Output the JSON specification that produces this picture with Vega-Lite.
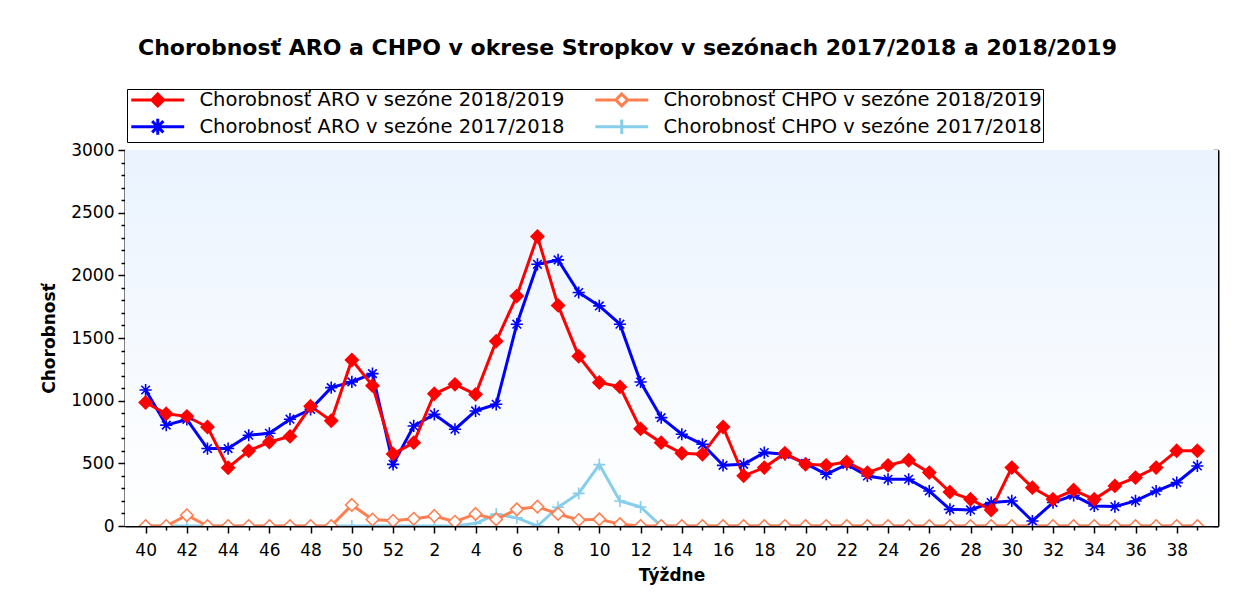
{
  "$schema": "https://vega.github.io/schema/vega-lite/v6.json",
  "autosize": {"type": "none"},
  "padding": {"left": 125, "top": 150, "right": 18, "bottom": 80},
  "width": 1093,
  "height": 376,
  "background": "#ffffff",
  "title": {
    "text": "Chorobnosť ARO a CHPO v okrese Stropkov v sezónach 2017/2018 a 2018/2019",
    "font": "DejaVu Sans",
    "fontSize": 22,
    "fontWeight": "bold",
    "color": "#000000",
    "anchor": "middle",
    "frame": "group",
    "dx": -44,
    "baseline": "middle",
    "offset": 19
  },
  "data": {
    "values": [
      {"t":40,"s":"Chorobnosť CHPO v sezóne 2017/2018","v":0},{"t":41,"s":"Chorobnosť CHPO v sezóne 2017/2018","v":0},{"t":42,"s":"Chorobnosť CHPO v sezóne 2017/2018","v":0},{"t":43,"s":"Chorobnosť CHPO v sezóne 2017/2018","v":0},{"t":44,"s":"Chorobnosť CHPO v sezóne 2017/2018","v":0},{"t":45,"s":"Chorobnosť CHPO v sezóne 2017/2018","v":0},{"t":46,"s":"Chorobnosť CHPO v sezóne 2017/2018","v":0},{"t":47,"s":"Chorobnosť CHPO v sezóne 2017/2018","v":0},{"t":48,"s":"Chorobnosť CHPO v sezóne 2017/2018","v":0},{"t":49,"s":"Chorobnosť CHPO v sezóne 2017/2018","v":0},{"t":50,"s":"Chorobnosť CHPO v sezóne 2017/2018","v":0},{"t":51,"s":"Chorobnosť CHPO v sezóne 2017/2018","v":0},{"t":52,"s":"Chorobnosť CHPO v sezóne 2017/2018","v":0},
      {"t":1,"s":"Chorobnosť CHPO v sezóne 2017/2018","v":0},{"t":2,"s":"Chorobnosť CHPO v sezóne 2017/2018","v":0},{"t":3,"s":"Chorobnosť CHPO v sezóne 2017/2018","v":0},{"t":4,"s":"Chorobnosť CHPO v sezóne 2017/2018","v":20},{"t":5,"s":"Chorobnosť CHPO v sezóne 2017/2018","v":95},{"t":6,"s":"Chorobnosť CHPO v sezóne 2017/2018","v":65},{"t":7,"s":"Chorobnosť CHPO v sezóne 2017/2018","v":0},{"t":8,"s":"Chorobnosť CHPO v sezóne 2017/2018","v":150},{"t":9,"s":"Chorobnosť CHPO v sezóne 2017/2018","v":260},{"t":10,"s":"Chorobnosť CHPO v sezóne 2017/2018","v":490},{"t":11,"s":"Chorobnosť CHPO v sezóne 2017/2018","v":200},{"t":12,"s":"Chorobnosť CHPO v sezóne 2017/2018","v":152},{"t":13,"s":"Chorobnosť CHPO v sezóne 2017/2018","v":0},
      {"t":14,"s":"Chorobnosť CHPO v sezóne 2017/2018","v":0},{"t":15,"s":"Chorobnosť CHPO v sezóne 2017/2018","v":0},{"t":16,"s":"Chorobnosť CHPO v sezóne 2017/2018","v":0},{"t":17,"s":"Chorobnosť CHPO v sezóne 2017/2018","v":0},{"t":18,"s":"Chorobnosť CHPO v sezóne 2017/2018","v":0},{"t":19,"s":"Chorobnosť CHPO v sezóne 2017/2018","v":0},{"t":20,"s":"Chorobnosť CHPO v sezóne 2017/2018","v":0},{"t":21,"s":"Chorobnosť CHPO v sezóne 2017/2018","v":0},{"t":22,"s":"Chorobnosť CHPO v sezóne 2017/2018","v":0},{"t":23,"s":"Chorobnosť CHPO v sezóne 2017/2018","v":0},{"t":24,"s":"Chorobnosť CHPO v sezóne 2017/2018","v":0},{"t":25,"s":"Chorobnosť CHPO v sezóne 2017/2018","v":0},{"t":26,"s":"Chorobnosť CHPO v sezóne 2017/2018","v":0},
      {"t":27,"s":"Chorobnosť CHPO v sezóne 2017/2018","v":0},{"t":28,"s":"Chorobnosť CHPO v sezóne 2017/2018","v":0},{"t":29,"s":"Chorobnosť CHPO v sezóne 2017/2018","v":0},{"t":30,"s":"Chorobnosť CHPO v sezóne 2017/2018","v":0},{"t":31,"s":"Chorobnosť CHPO v sezóne 2017/2018","v":0},{"t":32,"s":"Chorobnosť CHPO v sezóne 2017/2018","v":0},{"t":33,"s":"Chorobnosť CHPO v sezóne 2017/2018","v":0},{"t":34,"s":"Chorobnosť CHPO v sezóne 2017/2018","v":0},{"t":35,"s":"Chorobnosť CHPO v sezóne 2017/2018","v":0},{"t":36,"s":"Chorobnosť CHPO v sezóne 2017/2018","v":0},{"t":37,"s":"Chorobnosť CHPO v sezóne 2017/2018","v":0},{"t":38,"s":"Chorobnosť CHPO v sezóne 2017/2018","v":0},{"t":39,"s":"Chorobnosť CHPO v sezóne 2017/2018","v":0},

      {"t":40,"s":"Chorobnosť CHPO v sezóne 2018/2019","v":0},{"t":41,"s":"Chorobnosť CHPO v sezóne 2018/2019","v":0},{"t":42,"s":"Chorobnosť CHPO v sezóne 2018/2019","v":86},{"t":43,"s":"Chorobnosť CHPO v sezóne 2018/2019","v":0},{"t":44,"s":"Chorobnosť CHPO v sezóne 2018/2019","v":0},{"t":45,"s":"Chorobnosť CHPO v sezóne 2018/2019","v":0},{"t":46,"s":"Chorobnosť CHPO v sezóne 2018/2019","v":0},{"t":47,"s":"Chorobnosť CHPO v sezóne 2018/2019","v":0},{"t":48,"s":"Chorobnosť CHPO v sezóne 2018/2019","v":0},{"t":49,"s":"Chorobnosť CHPO v sezóne 2018/2019","v":0},{"t":50,"s":"Chorobnosť CHPO v sezóne 2018/2019","v":168},{"t":51,"s":"Chorobnosť CHPO v sezóne 2018/2019","v":52},{"t":52,"s":"Chorobnosť CHPO v sezóne 2018/2019","v":42},
      {"t":1,"s":"Chorobnosť CHPO v sezóne 2018/2019","v":58},{"t":2,"s":"Chorobnosť CHPO v sezóne 2018/2019","v":80},{"t":3,"s":"Chorobnosť CHPO v sezóne 2018/2019","v":34},{"t":4,"s":"Chorobnosť CHPO v sezóne 2018/2019","v":96},{"t":5,"s":"Chorobnosť CHPO v sezóne 2018/2019","v":53},{"t":6,"s":"Chorobnosť CHPO v sezóne 2018/2019","v":133},{"t":7,"s":"Chorobnosť CHPO v sezóne 2018/2019","v":154},{"t":8,"s":"Chorobnosť CHPO v sezóne 2018/2019","v":96},{"t":9,"s":"Chorobnosť CHPO v sezóne 2018/2019","v":48},{"t":10,"s":"Chorobnosť CHPO v sezóne 2018/2019","v":53},{"t":11,"s":"Chorobnosť CHPO v sezóne 2018/2019","v":15},{"t":12,"s":"Chorobnosť CHPO v sezóne 2018/2019","v":0},{"t":13,"s":"Chorobnosť CHPO v sezóne 2018/2019","v":0},
      {"t":14,"s":"Chorobnosť CHPO v sezóne 2018/2019","v":0},{"t":15,"s":"Chorobnosť CHPO v sezóne 2018/2019","v":0},{"t":16,"s":"Chorobnosť CHPO v sezóne 2018/2019","v":0},{"t":17,"s":"Chorobnosť CHPO v sezóne 2018/2019","v":0},{"t":18,"s":"Chorobnosť CHPO v sezóne 2018/2019","v":0},{"t":19,"s":"Chorobnosť CHPO v sezóne 2018/2019","v":0},{"t":20,"s":"Chorobnosť CHPO v sezóne 2018/2019","v":0},{"t":21,"s":"Chorobnosť CHPO v sezóne 2018/2019","v":0},{"t":22,"s":"Chorobnosť CHPO v sezóne 2018/2019","v":0},{"t":23,"s":"Chorobnosť CHPO v sezóne 2018/2019","v":0},{"t":24,"s":"Chorobnosť CHPO v sezóne 2018/2019","v":0},{"t":25,"s":"Chorobnosť CHPO v sezóne 2018/2019","v":0},{"t":26,"s":"Chorobnosť CHPO v sezóne 2018/2019","v":0},
      {"t":27,"s":"Chorobnosť CHPO v sezóne 2018/2019","v":0},{"t":28,"s":"Chorobnosť CHPO v sezóne 2018/2019","v":0},{"t":29,"s":"Chorobnosť CHPO v sezóne 2018/2019","v":0},{"t":30,"s":"Chorobnosť CHPO v sezóne 2018/2019","v":0},{"t":31,"s":"Chorobnosť CHPO v sezóne 2018/2019","v":0},{"t":32,"s":"Chorobnosť CHPO v sezóne 2018/2019","v":0},{"t":33,"s":"Chorobnosť CHPO v sezóne 2018/2019","v":0},{"t":34,"s":"Chorobnosť CHPO v sezóne 2018/2019","v":0},{"t":35,"s":"Chorobnosť CHPO v sezóne 2018/2019","v":0},{"t":36,"s":"Chorobnosť CHPO v sezóne 2018/2019","v":0},{"t":37,"s":"Chorobnosť CHPO v sezóne 2018/2019","v":0},{"t":38,"s":"Chorobnosť CHPO v sezóne 2018/2019","v":0},{"t":39,"s":"Chorobnosť CHPO v sezóne 2018/2019","v":0},

      {"t":40,"s":"Chorobnosť ARO v sezóne 2017/2018","v":1085},{"t":41,"s":"Chorobnosť ARO v sezóne 2017/2018","v":805},{"t":42,"s":"Chorobnosť ARO v sezóne 2017/2018","v":850},{"t":43,"s":"Chorobnosť ARO v sezóne 2017/2018","v":618},{"t":44,"s":"Chorobnosť ARO v sezóne 2017/2018","v":618},{"t":45,"s":"Chorobnosť ARO v sezóne 2017/2018","v":724},{"t":46,"s":"Chorobnosť ARO v sezóne 2017/2018","v":740},{"t":47,"s":"Chorobnosť ARO v sezóne 2017/2018","v":852},{"t":48,"s":"Chorobnosť ARO v sezóne 2017/2018","v":931},{"t":49,"s":"Chorobnosť ARO v sezóne 2017/2018","v":1104},{"t":50,"s":"Chorobnosť ARO v sezóne 2017/2018","v":1150},{"t":51,"s":"Chorobnosť ARO v sezóne 2017/2018","v":1216},{"t":52,"s":"Chorobnosť ARO v sezóne 2017/2018","v":492},
      {"t":1,"s":"Chorobnosť ARO v sezóne 2017/2018","v":798},{"t":2,"s":"Chorobnosť ARO v sezóne 2017/2018","v":891},{"t":3,"s":"Chorobnosť ARO v sezóne 2017/2018","v":772},{"t":4,"s":"Chorobnosť ARO v sezóne 2017/2018","v":918},{"t":5,"s":"Chorobnosť ARO v sezóne 2017/2018","v":971},{"t":6,"s":"Chorobnosť ARO v sezóne 2017/2018","v":1610},{"t":7,"s":"Chorobnosť ARO v sezóne 2017/2018","v":2088},{"t":8,"s":"Chorobnosť ARO v sezóne 2017/2018","v":2123},{"t":9,"s":"Chorobnosť ARO v sezóne 2017/2018","v":1863},{"t":10,"s":"Chorobnosť ARO v sezóne 2017/2018","v":1756},{"t":11,"s":"Chorobnosť ARO v sezóne 2017/2018","v":1610},{"t":12,"s":"Chorobnosť ARO v sezóne 2017/2018","v":1149},{"t":13,"s":"Chorobnosť ARO v sezóne 2017/2018","v":865},
      {"t":14,"s":"Chorobnosť ARO v sezóne 2017/2018","v":732},{"t":15,"s":"Chorobnosť ARO v sezóne 2017/2018","v":652},{"t":16,"s":"Chorobnosť ARO v sezóne 2017/2018","v":484},{"t":17,"s":"Chorobnosť ARO v sezóne 2017/2018","v":492},{"t":18,"s":"Chorobnosť ARO v sezóne 2017/2018","v":586},{"t":19,"s":"Chorobnosť ARO v sezóne 2017/2018","v":572},{"t":20,"s":"Chorobnosť ARO v sezóne 2017/2018","v":500},{"t":21,"s":"Chorobnosť ARO v sezóne 2017/2018","v":413},{"t":22,"s":"Chorobnosť ARO v sezóne 2017/2018","v":492},{"t":23,"s":"Chorobnosť ARO v sezóne 2017/2018","v":399},{"t":24,"s":"Chorobnosť ARO v sezóne 2017/2018","v":373},{"t":25,"s":"Chorobnosť ARO v sezóne 2017/2018","v":373},{"t":26,"s":"Chorobnosť ARO v sezóne 2017/2018","v":279},
      {"t":27,"s":"Chorobnosť ARO v sezóne 2017/2018","v":133},{"t":28,"s":"Chorobnosť ARO v sezóne 2017/2018","v":128},{"t":29,"s":"Chorobnosť ARO v sezóne 2017/2018","v":187},{"t":30,"s":"Chorobnosť ARO v sezóne 2017/2018","v":200},{"t":31,"s":"Chorobnosť ARO v sezóne 2017/2018","v":40},{"t":32,"s":"Chorobnosť ARO v sezóne 2017/2018","v":187},{"t":33,"s":"Chorobnosť ARO v sezóne 2017/2018","v":245},{"t":34,"s":"Chorobnosť ARO v sezóne 2017/2018","v":160},{"t":35,"s":"Chorobnosť ARO v sezóne 2017/2018","v":155},{"t":36,"s":"Chorobnosť ARO v sezóne 2017/2018","v":200},{"t":37,"s":"Chorobnosť ARO v sezóne 2017/2018","v":279},{"t":38,"s":"Chorobnosť ARO v sezóne 2017/2018","v":346},{"t":39,"s":"Chorobnosť ARO v sezóne 2017/2018","v":479},

      {"t":40,"s":"Chorobnosť ARO v sezóne 2018/2019","v":985},{"t":41,"s":"Chorobnosť ARO v sezóne 2018/2019","v":895},{"t":42,"s":"Chorobnosť ARO v sezóne 2018/2019","v":875},{"t":43,"s":"Chorobnosť ARO v sezóne 2018/2019","v":790},{"t":44,"s":"Chorobnosť ARO v sezóne 2018/2019","v":465},{"t":45,"s":"Chorobnosť ARO v sezóne 2018/2019","v":600},{"t":46,"s":"Chorobnosť ARO v sezóne 2018/2019","v":670},{"t":47,"s":"Chorobnosť ARO v sezóne 2018/2019","v":715},{"t":48,"s":"Chorobnosť ARO v sezóne 2018/2019","v":955},{"t":49,"s":"Chorobnosť ARO v sezóne 2018/2019","v":840},{"t":50,"s":"Chorobnosť ARO v sezóne 2018/2019","v":1325},{"t":51,"s":"Chorobnosť ARO v sezóne 2018/2019","v":1120},{"t":52,"s":"Chorobnosť ARO v sezóne 2018/2019","v":575},
      {"t":1,"s":"Chorobnosť ARO v sezóne 2018/2019","v":665},{"t":2,"s":"Chorobnosť ARO v sezóne 2018/2019","v":1055},{"t":3,"s":"Chorobnosť ARO v sezóne 2018/2019","v":1130},{"t":4,"s":"Chorobnosť ARO v sezóne 2018/2019","v":1050},{"t":5,"s":"Chorobnosť ARO v sezóne 2018/2019","v":1475},{"t":6,"s":"Chorobnosť ARO v sezóne 2018/2019","v":1835},{"t":7,"s":"Chorobnosť ARO v sezóne 2018/2019","v":2310},{"t":8,"s":"Chorobnosť ARO v sezóne 2018/2019","v":1760},{"t":9,"s":"Chorobnosť ARO v sezóne 2018/2019","v":1355},{"t":10,"s":"Chorobnosť ARO v sezóne 2018/2019","v":1145},{"t":11,"s":"Chorobnosť ARO v sezóne 2018/2019","v":1110},{"t":12,"s":"Chorobnosť ARO v sezóne 2018/2019","v":775},{"t":13,"s":"Chorobnosť ARO v sezóne 2018/2019","v":665},
      {"t":14,"s":"Chorobnosť ARO v sezóne 2018/2019","v":580},{"t":15,"s":"Chorobnosť ARO v sezóne 2018/2019","v":572},{"t":16,"s":"Chorobnosť ARO v sezóne 2018/2019","v":790},{"t":17,"s":"Chorobnosť ARO v sezóne 2018/2019","v":400},{"t":18,"s":"Chorobnosť ARO v sezóne 2018/2019","v":466},{"t":19,"s":"Chorobnosť ARO v sezóne 2018/2019","v":580},{"t":20,"s":"Chorobnosť ARO v sezóne 2018/2019","v":492},{"t":21,"s":"Chorobnosť ARO v sezóne 2018/2019","v":484},{"t":22,"s":"Chorobnosť ARO v sezóne 2018/2019","v":510},{"t":23,"s":"Chorobnosť ARO v sezóne 2018/2019","v":426},{"t":24,"s":"Chorobnosť ARO v sezóne 2018/2019","v":484},{"t":25,"s":"Chorobnosť ARO v sezóne 2018/2019","v":525},{"t":26,"s":"Chorobnosť ARO v sezóne 2018/2019","v":426},
      {"t":27,"s":"Chorobnosť ARO v sezóne 2018/2019","v":271},{"t":28,"s":"Chorobnosť ARO v sezóne 2018/2019","v":213},{"t":29,"s":"Chorobnosť ARO v sezóne 2018/2019","v":128},{"t":30,"s":"Chorobnosť ARO v sezóne 2018/2019","v":466},{"t":31,"s":"Chorobnosť ARO v sezóne 2018/2019","v":306},{"t":32,"s":"Chorobnosť ARO v sezóne 2018/2019","v":213},{"t":33,"s":"Chorobnosť ARO v sezóne 2018/2019","v":287},{"t":34,"s":"Chorobnosť ARO v sezóne 2018/2019","v":213},{"t":35,"s":"Chorobnosť ARO v sezóne 2018/2019","v":320},{"t":36,"s":"Chorobnosť ARO v sezóne 2018/2019","v":386},{"t":37,"s":"Chorobnosť ARO v sezóne 2018/2019","v":466},{"t":38,"s":"Chorobnosť ARO v sezóne 2018/2019","v":600},{"t":39,"s":"Chorobnosť ARO v sezóne 2018/2019","v":600}
    ]
  },
  "resolve": {
    "scale": {"shape": "independent", "stroke": "independent", "fill": "independent", "size": "independent"},
    "axis": {"x": "independent", "y": "independent"}
  },
  "layer": [
    {
      "mark": {
        "type": "rect",
        "fill": {"gradient": "linear", "x1": 0, "y1": 0, "x2": 0, "y2": 1, "stops": [{"offset": 0, "color": "#eaf3fe"}, {"offset": 1, "color": "#ffffff"}]}
      },
      "encoding": {
        "y": {"datum": 3000, "type": "quantitative", "scale": {"domain": [0, 3000], "nice": false}, "axis": null},
        "y2": {"datum": 0}
      }
    },
    {
      "mark": {"type": "line", "strokeWidth": 3, "clip": true},
      "encoding": {
        "x": {
          "field": "t", "type": "ordinal",
          "scale": {"type": "point", "padding": 1, "domain": [40,41,42,43,44,45,46,47,48,49,50,51,52,1,2,3,4,5,6,7,8,9,10,11,12,13,14,15,16,17,18,19,20,21,22,23,24,25,26,27,28,29,30,31,32,33,34,35,36,37,38,39]},
          "axis": {
            "orient": "bottom", "title": "Týždne", "labelAngle": 0,
            "labelExpr": "datum.value % 2 == 0 ? datum.label : ''",
            "domainWidth": 2, "domainColor": "#000000", "tickColor": "#000000", "tickWidth": 1.5,
            "tickSize": {"condition": {"test": "datum.value % 2 == 0", "value": 7}, "value": 4},
            "labelPadding": 9, "titlePadding": 9,
            "labelFont": "DejaVu Sans", "labelFontSize": 17, "labelColor": "#000000",
            "titleFont": "DejaVu Sans", "titleFontSize": 17, "titleFontWeight": "bold", "titleColor": "#000000"
          }
        },
        "y": {
          "field": "v", "type": "quantitative",
          "scale": {"domain": [0, 3000], "nice": false},
          "axis": {
            "orient": "left", "title": "Chorobnosť", "grid": false, "format": "d",
            "values": [0,100,200,300,400,500,600,700,800,900,1000,1100,1200,1300,1400,1500,1600,1700,1800,1900,2000,2100,2200,2300,2400,2500,2600,2700,2800,2900,3000],
            "labelExpr": "datum.value % 500 == 0 ? datum.label : ''",
            "domainWidth": 2, "domainColor": "#000000", "tickColor": "#000000", "tickWidth": 1.5,
            "tickSize": {"condition": {"test": "datum.value % 500 == 0", "value": 7}, "value": 4},
            "labelPadding": 4, "titlePadding": 12,
            "labelFont": "DejaVu Sans", "labelFontSize": 17, "labelColor": "#000000",
            "titleFont": "DejaVu Sans", "titleFontSize": 17, "titleFontWeight": "bold", "titleColor": "#000000"
          }
        },
        "stroke": {
          "field": "s", "type": "nominal", "legend": null,
          "scale": {
            "domain": ["Chorobnosť ARO v sezóne 2018/2019", "Chorobnosť CHPO v sezóne 2018/2019", "Chorobnosť ARO v sezóne 2017/2018", "Chorobnosť CHPO v sezóne 2017/2018"],
            "range": ["#ff0000", "#ff7f50", "#0000ff", "#87ceeb"]
          }
        }
      }
    },
    {
      "mark": {"type": "point", "clip": true, "strokeWidth": 1.6, "opacity": 1},
      "encoding": {
        "x": {"field": "t", "type": "ordinal", "axis": null},
        "y": {"field": "v", "type": "quantitative", "axis": null},
        "stroke": {
          "field": "s", "type": "nominal", "legend": null,
          "scale": {
            "domain": ["Chorobnosť ARO v sezóne 2018/2019", "Chorobnosť CHPO v sezóne 2018/2019", "Chorobnosť ARO v sezóne 2017/2018", "Chorobnosť CHPO v sezóne 2017/2018"],
            "range": ["#ff0000", "#ff7f50", "#0000ff", "#87ceeb"]
          }
        },
        "fill": {
          "field": "s", "type": "nominal", "legend": null,
          "scale": {
            "domain": ["Chorobnosť ARO v sezóne 2018/2019", "Chorobnosť CHPO v sezóne 2018/2019", "Chorobnosť ARO v sezóne 2017/2018", "Chorobnosť CHPO v sezóne 2017/2018"],
            "range": ["#ff0000", "#ffffff", "transparent", "transparent"]
          }
        },
        "shape": {
          "field": "s", "type": "nominal", "legend": null,
          "scale": {
            "domain": ["Chorobnosť ARO v sezóne 2018/2019", "Chorobnosť CHPO v sezóne 2018/2019", "Chorobnosť ARO v sezóne 2017/2018", "Chorobnosť CHPO v sezóne 2017/2018"],
            "range": ["M0,-1L1,0L0,1L-1,0Z", "M0,-1L1,0L0,1L-1,0Z", "M-1,0L1,0M0,-1L0,1M-0.7,-0.7L0.7,0.7M-0.7,0.7L0.7,-0.7", "M-1,0L1,0M0,-1L0,1"]
          }
        },
        "size": {
          "field": "s", "type": "nominal", "legend": null,
          "scale": {
            "domain": ["Chorobnosť ARO v sezóne 2018/2019", "Chorobnosť CHPO v sezóne 2018/2019", "Chorobnosť ARO v sezóne 2017/2018", "Chorobnosť CHPO v sezóne 2017/2018"],
            "range": [160, 144, 256, 196]
          }
        }
      }
    },
    {
      "mark": {"type": "point", "opacity": 0, "strokeWidth": 3},
      "encoding": {
        "x": {
          "field": "t", "type": "ordinal",
          "axis": {
            "orient": "top", "title": null, "labels": false,
            "domainWidth": 1, "domainColor": "#555555", "tickColor": "#000000", "tickWidth": 1.5,
            "tickSize": {"condition": {"test": "datum.value % 2 == 0", "value": -5}, "value": -3}
          }
        },
        "y": {
          "field": "v", "type": "quantitative",
          "axis": {
            "orient": "right", "title": null, "labels": false, "grid": false,
            "values": [0,100,200,300,400,500,600,700,800,900,1000,1100,1200,1300,1400,1500,1600,1700,1800,1900,2000,2100,2200,2300,2400,2500,2600,2700,2800,2900,3000],
            "domainWidth": 2, "domainColor": "#000000", "tickColor": "#000000", "tickWidth": 1.5,
            "tickSize": {"condition": {"test": "datum.value % 500 == 0", "value": -5}, "value": -3}
          }
        },
        "stroke": {
          "field": "s", "type": "nominal",
          "scale": {
            "domain": ["Chorobnosť ARO v sezóne 2018/2019", "Chorobnosť CHPO v sezóne 2018/2019", "Chorobnosť ARO v sezóne 2017/2018", "Chorobnosť CHPO v sezóne 2017/2018"],
            "range": ["#ff0000", "#ff7f50", "#0000ff", "#87ceeb"]
          },
          "legend": {"title": null, "orient": "none", "direction": "horizontal", "legendX": 2, "legendY": -61, "columns": 2, "padding": 1, "rowPadding": 0, "columnPadding": 24, "strokeColor": "#000000", "fillColor": "#ffffff", "labelFont": "DejaVu Sans", "labelFontSize": 19.5, "labelColor": "#000000", "labelLimit": 0, "symbolSize": 175, "symbolStrokeWidth": 3, "symbolOpacity": 1, "symbolOffset": 20, "labelOffset": 32}
        },
        "fill": {
          "field": "s", "type": "nominal",
          "scale": {
            "domain": ["Chorobnosť ARO v sezóne 2018/2019", "Chorobnosť CHPO v sezóne 2018/2019", "Chorobnosť ARO v sezóne 2017/2018", "Chorobnosť CHPO v sezóne 2017/2018"],
            "range": ["#ff0000", "#ffffff", "transparent", "transparent"]
          },
          "legend": {"title": null, "orient": "none", "direction": "horizontal", "legendX": 2, "legendY": -61, "columns": 2, "padding": 1, "rowPadding": 0, "columnPadding": 24, "strokeColor": "#000000", "fillColor": "#ffffff", "labelFont": "DejaVu Sans", "labelFontSize": 19.5, "labelColor": "#000000", "labelLimit": 0, "symbolSize": 175, "symbolStrokeWidth": 3, "symbolOpacity": 1, "symbolOffset": 20, "labelOffset": 32}
        },
        "shape": {
          "field": "s", "type": "nominal",
          "scale": {
            "domain": ["Chorobnosť ARO v sezóne 2018/2019", "Chorobnosť CHPO v sezóne 2018/2019", "Chorobnosť ARO v sezóne 2017/2018", "Chorobnosť CHPO v sezóne 2017/2018"],
            "range": ["M-4,0L4,0M0,-0.9L0.9,0L0,0.9L-0.9,0Z", "M-4,0L-0.9,0M0.9,0L4,0M0,-0.9L0.9,0L0,0.9L-0.9,0Z", "M-4,0L4,0M0,-1.2L0,1.2M-0.85,-0.85L0.85,0.85M-0.85,0.85L0.85,-0.85", "M-4,0L4,0M0,-1.1L0,1.1"]
          },
          "legend": {"title": null, "orient": "none", "direction": "horizontal", "legendX": 2, "legendY": -61, "columns": 2, "padding": 1, "rowPadding": 0, "columnPadding": 24, "strokeColor": "#000000", "fillColor": "#ffffff", "labelFont": "DejaVu Sans", "labelFontSize": 19.5, "labelColor": "#000000", "labelLimit": 0, "symbolSize": 175, "symbolStrokeWidth": 3, "symbolOpacity": 1, "symbolOffset": 20, "labelOffset": 32}
        }
      }
    }
  ],
  "config": {
    "view": {"stroke": "#333333", "strokeWidth": 1},
    "axis": {"grid": false}
  }
}
